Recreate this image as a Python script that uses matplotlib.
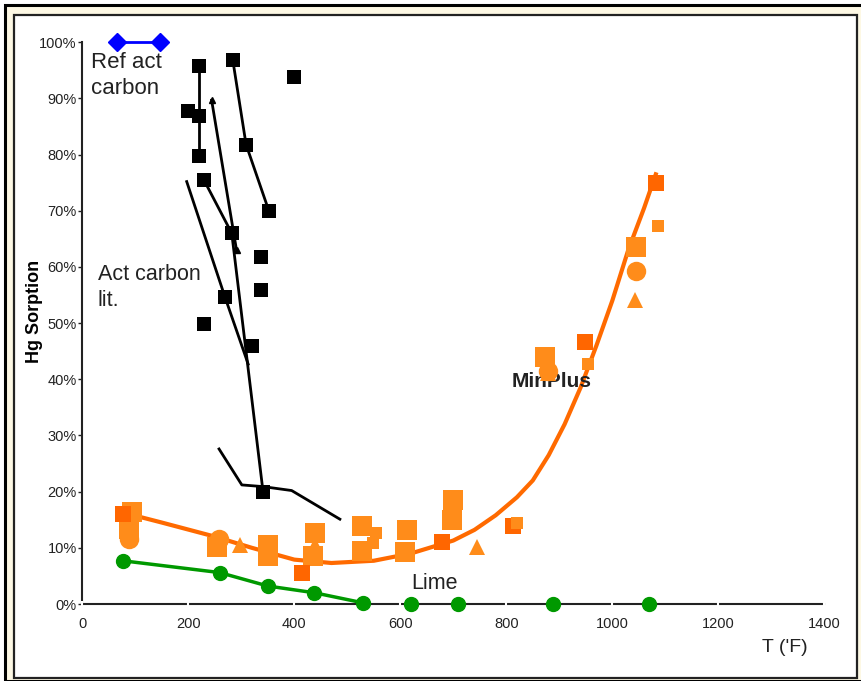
import matplotlib
matplotlib.use("Agg")
import matplotlib.pyplot as plt
from matplotlib.patches import Rectangle

plt.rcParams["font.family"] = ["Liberation Sans", "DejaVu Sans"]

# reference activated carbon (blue)
ref_t = [66, 146]
ref_hg = [100, 100]

# activated carbon literature (black squares)
ac_t = [221, 284, 399, 199, 221, 221, 309, 230, 352, 282, 337, 337, 269, 230, 321, 341]
ac_hg = [95.8, 96.8, 93.9, 87.8, 86.8, 79.8, 81.8, 75.4, 70.0, 66.0, 61.8, 55.9, 54.7, 49.8, 45.9, 20.0]

# literature line series (black)
lit1_t = [221, 221, 221]
lit1_hg = [95.8, 86.8, 79.8]
lit2_t = [284, 309, 352]
lit2_hg = [96.8, 81.8, 70.0]
lit3_t = [244, 291]
lit3_hg = [89.7, 63.0]
lit4_t = [230, 282, 341]
lit4_hg = [75.4, 66.0, 20.0]
lit5_t = [197, 269, 313]
lit5_hg = [75.2, 54.7, 42.7]
lit6_t = [258, 301, 341, 395, 486]
lit6_hg = [27.6, 21.2, 20.9, 20.2, 15.1]

# MinPlus (orange)
mp_sq_t = [93, 88, 255, 350, 350, 439, 436, 527, 527, 612, 609, 700, 697, 873, 1045]
mp_sq_hg = [16.4, 13.3, 10.2, 10.5, 8.5, 12.6, 8.6, 13.8, 9.5, 13.2, 9.3, 18.5, 15.0, 44.0, 63.6]
mp_dk_t = [77, 414, 678, 813, 948, 1082]
mp_dk_hg = [16.1, 5.5, 11.1, 13.8, 46.7, 75.0]
mp_small_t = [549, 555, 821, 955, 1086]
mp_small_hg = [10.8, 12.6, 14.5, 42.8, 67.3]
mp_circ_t = [88, 258, 879, 1045]
mp_circ_hg = [11.5, 11.5, 41.5, 59.2]
mp_tri_t = [297, 439, 744, 879, 1043]
mp_tri_hg = [10.5, 10.5, 10.2, 41.1, 54.1]

# MinPlus trend
fit_t = [80, 150, 250, 320, 400, 470, 550, 620, 700, 740, 780, 820, 850, 880, 910,
         940, 970, 1000, 1030, 1060, 1082]
fit_hg = [16.2, 14.5, 12.0, 10.0, 7.9, 7.3, 7.7, 9.0, 11.3, 13.2, 15.8, 19.0, 22.0, 26.5, 32.0,
          38.5, 46.0, 54.0, 63.0, 70.5, 76.5]

# Lime (green)
lime_t = [76, 259, 350, 438, 530, 621, 709, 888, 1069]
lime_hg = [7.7, 5.6, 3.2, 2.0, 0.2, 0, 0, 0, 0]

W, H = 862, 681
fig = plt.figure(figsize=(W / 100, H / 100), dpi=100)
fig.patch.set_facecolor("white")

# frame like the slide
fig.patches.append(Rectangle((5 / W, 0), 1, 1 - 5 / H, transform=fig.transFigure,
                             facecolor="#fdf8e4", edgecolor="black", lw=2.2, zorder=-3))
fig.patches.append(Rectangle((14 / W, 3 / H), (857 - 14) / W, (666 - 3) / H,
                             transform=fig.transFigure, facecolor="white",
                             edgecolor="#222222", lw=1.6, zorder=-2))

ax = fig.add_axes([82.3 / W, 1 - 604 / H, 742 / W, 561.7 / H])
ax.set_facecolor("none")

light = "#ff8c1a"
dark = "#ff6600"

ax.plot(fit_t, fit_hg, color="#ff6a00", lw=3, zorder=2)

ax.plot(mp_sq_t, mp_sq_hg, "s", color=light, ms=15, mew=0, zorder=3)
ax.plot(mp_dk_t, mp_dk_hg, "s", color=dark, ms=12, mew=0, zorder=3)
ax.plot(mp_small_t, mp_small_hg, "s", color=light, ms=8.5, mew=0, zorder=4)
ax.plot(mp_circ_t, mp_circ_hg, "o", color=light, ms=14, mew=0, zorder=3)
ax.plot(mp_tri_t, mp_tri_hg, "^", color=light, ms=12, mew=0, zorder=3)

for t, hg in [(lit1_t, lit1_hg), (lit2_t, lit2_hg), (lit4_t, lit4_hg), (lit5_t, lit5_hg), (lit6_t, lit6_hg)]:
    ax.plot(t, hg, color="black", lw=2, zorder=4)
ax.plot(lit3_t, lit3_hg, color="black", lw=2, marker="^", ms=5, zorder=4)
ax.plot(ac_t, ac_hg, "s", color="black", ms=10, mew=0, zorder=5)

ax.plot(ref_t, ref_hg, color="#0000ff", lw=2, marker="D", ms=9, clip_on=False, zorder=5)

ax.plot(lime_t, lime_hg, color="#009900", lw=0, marker="o", ms=10, clip_on=False, zorder=5)
ax.plot(lime_t[:5], lime_hg[:5], color="#009900", lw=2.5, zorder=5)

ax.text(16, 98.3, "Ref act\ncarbon", fontsize=16, va="top", ha="left", color="#222222", linespacing=1.35)
ax.text(29, 60.5, "Act carbon\nlit.", fontsize=15.5, va="top", ha="left", color="#222222", linespacing=1.3)
ax.text(886, 39.6, "MinPlus", fontsize=15, fontweight="bold", ha="center", va="center", color="#222222", zorder=2.5)
ax.text(665, 3.7, "Lime", fontsize=15.5, ha="center", va="center", color="#222222")

ax.set_xlim(0, 1400)
ax.set_ylim(0, 100)
ax.set_xticks(range(0, 1401, 200))
ax.set_yticks(range(0, 101, 10))
ax.set_yticklabels([f"{v}%" for v in range(0, 101, 10)])

for s in ["top", "right"]:
    ax.spines[s].set_visible(False)
for s in ["left", "bottom"]:
    ax.spines[s].set_linewidth(1.5)
    ax.spines[s].set_color("#222222")

ax.tick_params(axis="y", direction="out", length=3, width=1, labelsize=10.5, pad=1, colors="#222222")
ax.tick_params(axis="x", direction="inout", length=5, width=1.5, color="white", labelsize=10.5,
               pad=7, labelcolor="#222222")
ax.xaxis.set_zorder(3)

ax.set_ylabel("Hg Sorption", fontsize=13, fontweight="bold", labelpad=0)
ax.yaxis.set_label_coords(-0.053, 0.52)
ax.text(0.947, -0.078, "T ('F)", transform=ax.transAxes, fontsize=14, ha="center", va="center", color="#222222")

fig.savefig("out.png", dpi=100)
